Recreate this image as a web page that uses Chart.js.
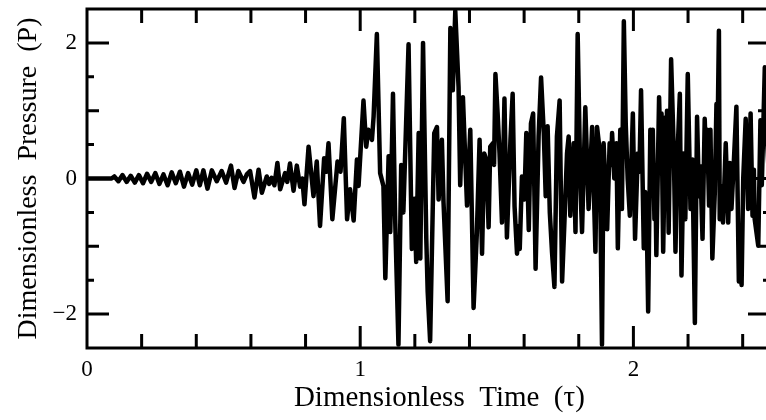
<!DOCTYPE html>
<html>
<head>
<meta charset="utf-8">
<script src="https://cdn.jsdelivr.net/npm/chart.js@4"></script>
<style>
  html, body { margin: 0; padding: 0; background: #fff; overflow: hidden; }
</style>
</head>
<body>
<canvas id="c" width="772" height="420"></canvas>
<script>
// tick labels
const xTickLabels = [0, 1, 2];
const yTickLabels = [-2, 0, 2];

// signal: time (tau) and pressure (P), 10 per line
const time = [
  0, 0.09, 0.10, 0.115, 0.13, 0.145, 0.16, 0.175, 0.19, 0.205,
  0.22, 0.235, 0.25, 0.265, 0.28, 0.295, 0.31, 0.325, 0.34, 0.355,
  0.37, 0.385, 0.40, 0.413, 0.426, 0.441, 0.457, 0.475, 0.493, 0.509,
  0.527, 0.540, 0.554, 0.573, 0.585, 0.597, 0.613, 0.628, 0.640, 0.658,
  0.667, 0.676, 0.686, 0.697, 0.707, 0.725, 0.733, 0.743, 0.756, 0.768,
  0.780, 0.788, 0.796, 0.811, 0.829, 0.841, 0.853, 0.868, 0.876, 0.884,
  0.898, 0.917, 0.928, 0.940, 0.952, 0.963, 0.976, 0.988, 0.994, 1.012,
  1.022, 1.030, 1.043, 1.049, 1.061, 1.073, 1.085, 1.092, 1.104, 1.110,
  1.120, 1.128, 1.140, 1.150, 1.158, 1.177, 1.189, 1.198, 1.205, 1.214,
  1.220, 1.230, 1.242, 1.247, 1.256, 1.271, 1.281, 1.287, 1.299, 1.305,
  1.320, 1.330, 1.339, 1.348, 1.360, 1.366, 1.376, 1.391, 1.403, 1.415,
  1.427, 1.437, 1.446, 1.454, 1.462, 1.470, 1.476, 1.486, 1.490, 1.495,
  1.503, 1.510, 1.519, 1.528, 1.537, 1.550, 1.558, 1.565, 1.574, 1.579,
  1.584, 1.592, 1.601, 1.608, 1.617, 1.625, 1.633, 1.642, 1.653, 1.662,
  1.672, 1.679, 1.686, 1.694, 1.702, 1.711, 1.720, 1.730, 1.739, 1.747,
  1.757, 1.763, 1.769, 1.781, 1.788, 1.796, 1.806, 1.812, 1.824, 1.836,
  1.849, 1.861, 1.867, 1.877, 1.885, 1.891, 1.904, 1.913, 1.918, 1.922,
  1.930, 1.938, 1.943, 1.952, 1.958, 1.965, 1.972, 1.979, 1.987, 1.998,
  2.006, 2.016, 2.022, 2.028, 2.038, 2.043, 2.048, 2.054, 2.062, 2.067,
  2.071, 2.077, 2.081, 2.084, 2.094, 2.099, 2.103, 2.109, 2.117, 2.121,
  2.123, 2.129, 2.138, 2.148, 2.154, 2.160, 2.170, 2.176, 2.184, 2.190,
  2.199, 2.209, 2.216, 2.225, 2.233, 2.240, 2.245, 2.253, 2.261, 2.265,
  2.270, 2.277, 2.282, 2.289, 2.298, 2.304, 2.308, 2.313, 2.316, 2.322,
  2.328, 2.338, 2.347, 2.353, 2.359, 2.368, 2.377, 2.386, 2.391, 2.396,
  2.402, 2.411, 2.420, 2.429, 2.436, 2.441, 2.444, 2.457, 2.465, 2.470,
  2.481, 2.490, 2.5
];
const pressure = [
  0, 0, 0.03, -0.04, 0.05, -0.05, 0.04, -0.06, 0.05, -0.07,
  0.07, -0.05, 0.08, -0.08, 0.06, -0.10, 0.09, -0.07, 0.10, -0.12,
  0.08, -0.09, 0.12, -0.10, 0.12, -0.15, 0.12, -0.04, 0.11, -0.06,
  0.19, -0.14, 0.11, -0.05, 0.06, 0.11, -0.28, 0.13, -0.21, 0.03,
  -0.08, 0.01, -0.10, 0.23, -0.16, 0.08, -0.05, 0.22, -0.18, 0.19,
  -0.12, 0.00, -0.38, 0.47, -0.26, 0.25, -0.70, 0.30, 0.10, 0.52,
  -0.60, 0.25, 0.10, 0.89, -0.60, -0.16, -0.62, 0.28, -0.11, 1.15,
  0.47, 0.72, 0.57, 0.91, 2.13, 0.08, -0.11, -1.47, 0.33, -0.79,
  1.25, -0.60, -2.45, 0.20, -0.50, 1.98, -1.04, -0.30, -1.23, 0.67,
  -1.18, 2.00, -0.90, -1.67, -2.40, 0.67, 0.76, -0.31, 0.57, -0.35,
  -1.81, 2.22, 1.30, 2.47, 1.35, -0.10, 1.20, -0.40, 0.72, -1.91,
  -0.80, 0.57, -1.11, 0.37, 0.27, -0.72, 0.47, 0.52, 0.20, 1.54,
  0.96, 0.37, -0.65, 1.18, -0.87, 0.57, 1.25, -0.41, -1.11, -0.70,
  -1.04, 0.03, -0.31, 0.67, -0.76, 0.81, 0.96, -1.33, 0.62, 1.49,
  0.67, -0.26, 0.77, -0.50, -1.08, -1.60, 0.62, 1.15, -1.52, -0.70,
  0.37, 0.62, -0.55, 0.52, -0.79, 2.13, -0.11, -0.79, 1.05, -0.45,
  0.76, -1.08, 0.76, 0.40, -2.45, 0.52, -0.75, 0.52, 0.20, 0.67,
  0.00, 0.52, -1.03, 0.72, -0.45, 2.32, 0.80, 0.00, -0.55, 0.96,
  -0.89, 0.37, 0.10, 1.30, -1.03, -0.20, -0.40, -1.96, 0.72, 0.30,
  0.72, -0.60, -0.20, -1.13, 1.20, 0.40, 0.96, -1.08, 0.90, 0.50,
  1.00, -0.80, 1.76, 0.37, -1.08, 0.20, 1.25, -1.43, 0.37, -0.60,
  1.54, -0.45, 0.28, -2.13, 0.91, -0.26, 0.18, -0.89, 0.88, 0.40,
  0.72, -0.40, 0.72, -1.18, -0.20, 1.10, 0.60, 2.18, -0.60, -0.11,
  -0.65, 0.52, -0.65, 0.23, -0.45, 0.28, 1.06, -1.52, -0.90, -1.57,
  0.00, 0.88, -0.45, 0.96, -0.55, 0.13, -0.60, -0.99, 0.86, -0.10,
  1.64, 0.50, -0.30
];

const FONT = "'Liberation Serif', 'DejaVu Serif', serif";

// frame and inward ticks, placed through the chart's own scales
const framePlugin = {
  id: "frame",
  afterDatasetsDraw(chart) {
    const { ctx, chartArea: a, scales } = chart;
    const x = scales.x, y = scales.y;
    ctx.save();
    ctx.strokeStyle = "#000";
    ctx.lineWidth = 3;
    ctx.strokeRect(a.left, a.top, a.right - a.left, a.bottom - a.top);
    ctx.beginPath();
    for (let i = 1; i <= 12; i++) {
      const v = i * 0.2;
      const px = x.getPixelForValue(v);
      const len = Math.abs(v - Math.round(v)) < 1e-6 ? 22 : 14;
      ctx.moveTo(px, a.top); ctx.lineTo(px, a.top + len);
      ctx.moveTo(px, a.bottom); ctx.lineTo(px, a.bottom - len);
    }
    for (let i = -4; i <= 4; i++) {
      const v = i * 0.5;
      const py = y.getPixelForValue(v);
      let len = 7;
      if (i % 4 === 0) len = 22; else if (i % 2 === 0) len = 12;
      ctx.moveTo(a.left, py); ctx.lineTo(a.left + len, py);
      ctx.moveTo(a.right, py); ctx.lineTo(a.right - len, py);
    }
    ctx.stroke();
    ctx.restore();
  }
};

new Chart(document.getElementById("c"), {
  type: "line",
  data: {
    datasets: [{
      data: time.map((t, i) => ({ x: t, y: pressure[i] })),
      borderColor: "#000",
      borderWidth: 4.5,
      borderJoinStyle: "round",
      borderCapStyle: "round",
      pointRadius: 0,
      tension: 0,
      fill: false
    }]
  },
  options: {
    responsive: false,
    animation: false,
    devicePixelRatio: 1,
    layout: { padding: { top: 9, right: 2, left: 0, bottom: 0 } },
    plugins: { legend: { display: false }, tooltip: { enabled: false } },
    scales: {
      x: {
        type: "linear",
        min: 0,
        max: 2.5,
        grid: { display: false, drawTicks: false },
        border: { display: false },
        afterBuildTicks: s => { s.ticks = xTickLabels.map(v => ({ value: v })); },
        afterFit: s => { s.height = 72; },
        ticks: { color: "#000", padding: 8, maxRotation: 0, font: { family: FONT, size: 23 } },
        title: {
          display: true,
          text: "\u00A0\u00A0\u00A0Dimensionless  Time  (\u03C4)",
          color: "#000",
          padding: { top: 0, bottom: 4 },
          font: { family: FONT, size: 29 }
        }
      },
      y: {
        min: -2.5,
        max: 2.5,
        grid: { display: false, drawTicks: false },
        border: { display: false },
        afterBuildTicks: s => { s.ticks = yTickLabels.map(v => ({ value: v })); },
        afterFit: s => { s.width = 87; s.paddingTop = 0; s.paddingBottom = 0; },
        ticks: {
          color: "#000", padding: 10, font: { family: FONT, size: 23 },
          callback: v => (v < 0 ? "\u2212" + Math.abs(v) : String(v))
        },
        title: {
          display: true,
          text: "Dimensionless  Pressure  (P)",
          color: "#000",
          padding: { top: 12, bottom: 0 },
          font: { family: FONT, size: 28 }
        }
      }
    }
  },
  plugins: [framePlugin]
});
</script>
</body>
</html>
